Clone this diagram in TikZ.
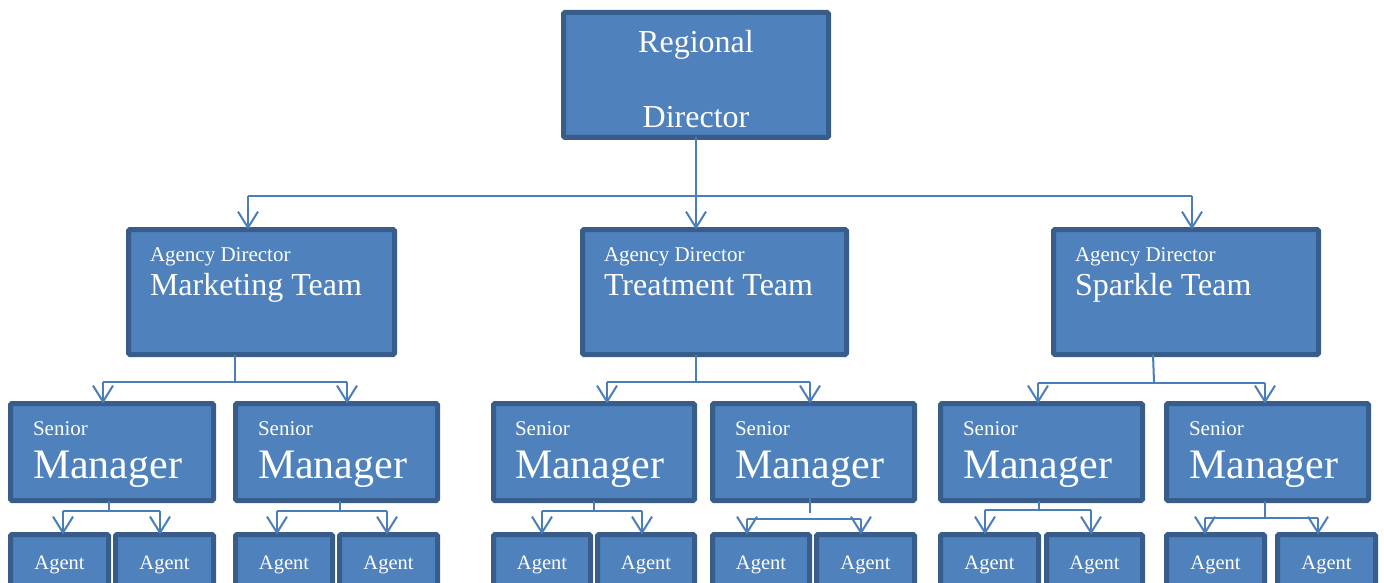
\documentclass[tikz,border=0pt]{standalone}
\usepackage{fontspec}
\setmainfont{Liberation Serif}
\usetikzlibrary{arrows.meta,calc}
\definecolor{boxfill}{HTML}{4F81BD}
\definecolor{boxline}{HTML}{385D8A}
\definecolor{conn}{HTML}{4A7EBB}
\begin{document}
\begin{tikzpicture}[x=1pt,y=-1pt,
  orgbox/.style={draw=boxline, fill=boxfill, line width=5pt, rounded corners=1.5pt, inner sep=0pt, outer sep=0pt},
  smbox/.style={orgbox, minimum height=97pt},
  agbox/.style={orgbox, minimum height=73pt},
  dirbox/.style={orgbox, minimum height=125pt},
  txt/.style={text=white, inner sep=0pt, outer sep=0pt},
  bigtxt/.style={txt, font=\fontsize{32}{36}\selectfont},
  smalltxt/.style={txt, font=\fontsize{21}{24}\selectfont},
  mgrtxt/.style={txt, font=\fontsize{42}{46}\selectfont},
  agtxt/.style={txt, font=\fontsize{20.5}{24}\selectfont},
  link/.style={draw=conn, line width=2pt},
  arr/.style={link, -{Straight Barb[length=16pt,width=20pt,line width=2pt]}}
]
\useasboundingbox (0,0) rectangle (1384,583);
\clip (0,0) rectangle (1384,583);

% boxes
\node[dirbox, minimum width=265pt] (R) at (696,75) {};
\node[dirbox, minimum width=266pt] (D1) at (261.5,292) {};
\node[dirbox, minimum width=264pt] (D2) at (714.5,292) {};
\node[dirbox, minimum width=265pt] (D3) at (1186,292) {};

\node[smbox, minimum width=203pt] (S1) at (112,452) {};
\node[smbox, minimum width=202pt] (S2) at (336.5,452) {};
\node[smbox, minimum width=201pt] (S3) at (594,452) {};
\node[smbox, minimum width=202pt] (S4) at (813.5,452) {};
\node[smbox, minimum width=202pt] (S5) at (1041.5,452) {};
\node[smbox, minimum width=202pt] (S6) at (1267.5,452) {};

\node[agbox, minimum width=98pt] (A1) at (59.5,571) {};
\node[agbox, minimum width=98pt] (A2) at (164.5,571) {};
\node[agbox, minimum width=97pt] (A3) at (284,571) {};
\node[agbox, minimum width=98pt] (A4) at (388.5,571) {};
\node[agbox, minimum width=97pt] (A5) at (542,571) {};
\node[agbox, minimum width=97pt] (A6) at (646,571) {};
\node[agbox, minimum width=97pt] (A7) at (761,571) {};
\node[agbox, minimum width=98pt] (A8) at (865.5,571) {};
\node[agbox, minimum width=98pt] (A9) at (989.5,571) {};
\node[agbox, minimum width=96pt] (A10) at (1094.5,571) {};
\node[agbox, minimum width=98pt] (A11) at (1215.5,571) {};
\node[agbox, minimum width=98pt] (A12) at (1326.5,571) {};

% texts
\node[bigtxt, anchor=base] (tR1) at (696,53) {Regional};
\node[bigtxt, anchor=base] (tR2) at (696,128) {Director};

\node[smalltxt, anchor=base west] (tD1a) at (150,261) {Agency Director};
\node[bigtxt, anchor=base west] (tD1b) at (150,295) {Marketing Team};
\node[smalltxt, anchor=base west] (tD2a) at (604,261) {Agency Director};
\node[bigtxt, anchor=base west] (tD2b) at (604,295) {Treatment Team};
\node[smalltxt, anchor=base west] (tD3a) at (1075,261) {Agency Director};
\node[bigtxt, anchor=base west] (tD3b) at (1075,295) {Sparkle Team};

\foreach \n/\x in {1/33,2/258,3/515,4/735,5/963,6/1189}{
  \node[smalltxt, anchor=base west] (tS\n a) at (\x,435) {Senior};
  \node[mgrtxt, anchor=base west] (tS\n b) at (\x,478) {Manager};
}
\foreach \n in {1,...,12}{
  \node[agtxt, anchor=base] (tA\n) at ($(A\n.north)+(0,35)$) {Agent};
}

% connectors: Regional Director -> Agency Directors
\coordinate (jR) at (696,196);
\draw[link] (R.south) -- (jR);
\draw[link] (jR) -- (jR -| D1.north) -- ++(-13.5,0) coordinate (jRl);
\draw[link] (jR) -- ($(jR -| D3.north)+(6,0)$) coordinate (jRr);
\draw[arr] (jRl) -- ($(D1.north)+(-13.5,0)$);
\draw[arr] (jR) -- ($(D2.north)+(-18.5,0)$);
\draw[arr] (jRr) -- ($(D3.north)+(6,0)$);

% Marketing
\coordinate (j1) at (235,382);
\draw[link] (D1.south -| j1) -- (j1);
\draw[link] (103,382) coordinate (j1l) -- (347,382) coordinate (j1r);
\draw[arr] (j1l) -- ($(S1.north)+(-9,0)$);
\draw[arr] (j1r) -- ($(S2.north)+(10.5,0)$);

% Treatment
\coordinate (j2) at (696,382);
\draw[link] (D2.south -| j2) -- (j2);
\draw[link] (607,382) coordinate (j2l) -- (810,382) coordinate (j2r);
\draw[arr] (j2l) -- ($(S3.north)+(13,0)$);
\draw[arr] (j2r) -- ($(S4.north)+(-3.5,0)$);

% Sparkle
\coordinate (j3) at (1154,382);
\draw[link] ($(D3.south)+(-33,0)$) -- (j3);
\draw[link] (1038,383) coordinate (j3l) -- (1265,383) coordinate (j3r);
\draw[arr] (j3l) -- ($(S5.north)+(-3.5,0)$);
\draw[arr] (j3r) -- ($(S6.north)+(-2.5,0)$);

% Senior managers -> agents
\coordinate (k1) at (109,511);
\draw[link] (S1.south -| k1) -- (k1);
\draw[link] (63,511) coordinate (k1l) -- (160,511) coordinate (k1r);
\draw[arr] (k1l) -- (A1.north -| k1l);
\draw[arr] (k1r) -- (A2.north -| k1r);

\coordinate (k2) at (340,511);
\draw[link] (S2.south -| k2) -- (k2);
\draw[link] (277,511) coordinate (k2l) -- (387,511) coordinate (k2r);
\draw[arr] (k2l) -- (A3.north -| k2l);
\draw[arr] (k2r) -- (A4.north -| k2r);

\coordinate (k3) at (594,511);
\draw[link] (S3.south -| k3) -- (k3);
\draw[link] (542,511) coordinate (k3l) -- (642,511) coordinate (k3r);
\draw[arr] (k3l) -- (A5.north -| k3l);
\draw[arr] (k3r) -- (A6.north -| k3r);

\coordinate (k4) at (810,513);
\draw[link] ($(S4.south -| k4)+(0,-3)$) -- (k4);
\draw[link] (747,519) coordinate (k4l) -- (861,519) coordinate (k4r);
\draw[arr] (k4l) -- (A7.north -| k4l);
\draw[arr] (k4r) -- (A8.north -| k4r);

\coordinate (k5) at (1039,510);
\draw[link] (S5.south -| k5) -- (k5);
\draw[link] (985,510) coordinate (k5l) -- (1091,510) coordinate (k5r);
\draw[arr] (k5l) -- (A9.north -| k5l);
\draw[arr] (k5r) -- (A10.north -| k5r);

\coordinate (k6) at (1265,518);
\draw[link] (S6.south -| k6) -- (k6);
\draw[link] (1205,518) coordinate (k6l) -- (1318,518) coordinate (k6r);
\draw[arr] (k6l) -- (A11.north -| k6l);
\draw[arr] (k6r) -- (A12.north -| k6r);
\end{tikzpicture}
\end{document}
